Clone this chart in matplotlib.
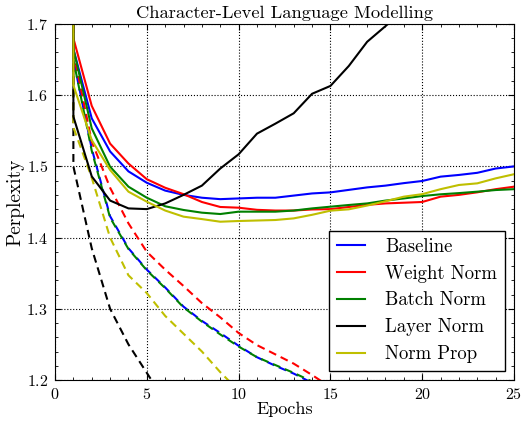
"""Perplexity curves for character-level language modelling (train dashed, valid solid)."""
import numpy as np
import matplotlib
matplotlib.use("Agg")
import matplotlib.pyplot as plt
from matplotlib.ticker import MultipleLocator

nan = np.nan

# first point is the evaluation before training (off the top of the chart)
epochs = [1, 1, 2, 3, 4, 5, 6, 7, 8, 9, 10, 11, 12, 13, 14, 15, 16, 17, 18,
          19, 20, 21, 22, 23, 24, 25]

labels = ["Baseline", "Weight Norm", "Batch Norm", "Layer Norm", "Norm Prop"]
colors = ["b", "r", "g", "k", "y"]

baseline_valid = [2.0, 1.665, 1.5675, 1.521, 1.493, 1.477, 1.466, 1.460, 1.456,
                  1.454, 1.455, 1.456, 1.456, 1.459, 1.462, 1.4635, 1.467,
                  1.4705, 1.473, 1.4765, 1.4795, 1.4856, 1.488, 1.491, 1.497,
                  1.500]
weight_valid = [2.0, 1.68, 1.585, 1.532, 1.504, 1.482, 1.470, 1.461, 1.450,
                1.443, 1.442, 1.439, 1.438, 1.438, 1.4395, 1.440, 1.443, 1.446,
                1.448, 1.449, 1.450, 1.4575, 1.460, 1.4636, 1.468, 1.4715]
batch_valid = [2.0, 1.665, 1.5535, 1.4996, 1.4715, 1.456, 1.444, 1.4388, 1.435,
               1.4331, 1.4364, 1.4364, 1.4364, 1.438, 1.441, 1.4434, 1.4458,
               1.448, 1.452, 1.455, 1.4584, 1.4608, 1.4625, 1.4645, 1.4668,
               1.468]
layer_valid = [2.0, 1.57, 1.486, 1.452, 1.441, 1.440, 1.448, 1.460, 1.473,
               1.497, 1.517, 1.546, 1.560, 1.5746, 1.602, 1.613, 1.641, 1.675,
               1.697, 1.72, nan, nan, nan, nan, nan, nan]
normprop_valid = [2.0, 1.614, 1.537, 1.495, 1.4645, 1.4504, 1.438, 1.4294,
                  1.426, 1.4223, 1.4233, 1.424, 1.4247, 1.427, 1.432, 1.4378,
                  1.4397, 1.445, 1.451, 1.4575, 1.461, 1.468, 1.4739, 1.4762,
                  1.4832, 1.489]

baseline_train = [2.0, 1.65, 1.525, 1.43, 1.385, 1.355, 1.33, 1.303, 1.283,
                  1.266, 1.248, 1.232, 1.22, 1.209, 1.196, 1.185, nan, nan, nan,
                  nan, nan, nan, nan, nan, nan, nan]
weight_train = [2.0, 1.66, 1.535, 1.47, 1.42, 1.38, 1.355, 1.332, 1.308,
                1.288, 1.266, 1.249, 1.236, 1.223, 1.207, 1.19, nan, nan, nan,
                nan, nan, nan, nan, nan, nan, nan]
batch_train = [2.0, 1.65, 1.522, 1.428, 1.384, 1.354, 1.329, 1.302, 1.282,
               1.264, 1.247, 1.232, 1.221, 1.21, 1.198, 1.187, nan, nan, nan,
               nan, nan, nan, nan, nan, nan, nan]
layer_train = [2.0, 1.50, 1.385, 1.30, 1.25, 1.21, 1.17, nan, nan, nan, nan,
               nan, nan, nan, nan, nan, nan, nan, nan, nan, nan, nan, nan, nan,
               nan, nan]
normprop_train = [2.0, 1.555, 1.484, 1.40, 1.347, 1.322, 1.29, 1.265, 1.24,
                  1.211, 1.185, nan, nan, nan, nan, nan, nan, nan, nan, nan,
                  nan, nan, nan, nan, nan, nan]

valid = [baseline_valid, weight_valid, batch_valid, layer_valid, normprop_valid]
train = [baseline_train, weight_train, batch_train, layer_train, normprop_train]

plt.rcParams["font.family"] = "serif"
plt.rcParams["font.serif"] = ["cmr10"]
plt.rcParams["mathtext.fontset"] = "cm"
plt.rcParams["axes.formatter.use_mathtext"] = True

fig = plt.figure(figsize=(5.21, 4.21), dpi=100)
ax = fig.add_axes([0.1056, 0.0974, 0.8810, 0.8456])

for ys, c in zip(train, colors):
    # green sits on top of blue; shift its dashes so both stay visible
    off = 3.0 if c == "g" else 0.0
    ax.plot(epochs, ys, color=c, lw=1.5, linestyle=(off, (3.8, 2.4)))
for ys, c, lab in zip(valid, colors, labels):
    ax.plot(epochs, ys, color=c, lw=1.5, label=lab)

ax.set_xlim(0, 25)
ax.set_ylim(1.2, 1.7)
ax.xaxis.set_major_locator(MultipleLocator(5))
ax.yaxis.set_major_locator(MultipleLocator(0.1))
ax.yaxis.set_minor_locator(MultipleLocator(0.02))
ax.xaxis.set_minor_locator(MultipleLocator(1))
ax.tick_params(which="both", direction="in", top=True, right=True,
               labelsize=11.5, pad=5)
ax.tick_params(which="major", length=4)
ax.tick_params(which="minor", length=2, width=0.6)
ax.grid(True, which="major", color="k", linestyle=":", linewidth=0.8)

ax.set_title("Character-Level Language Modelling", fontsize=13.3, pad=4)
ax.set_xlabel("Epochs", fontsize=13, labelpad=0)
ax.set_ylabel("Perplexity", fontsize=14, labelpad=1)

leg = ax.legend(loc="lower right", fontsize=13.5, fancybox=False,
                edgecolor="k", framealpha=1, borderaxespad=0.5,
                handlelength=1.5, handletextpad=1.1, labelspacing=0.47)
leg.get_frame().set_linewidth(1.0)

fig.savefig("out.png", dpi=100)
